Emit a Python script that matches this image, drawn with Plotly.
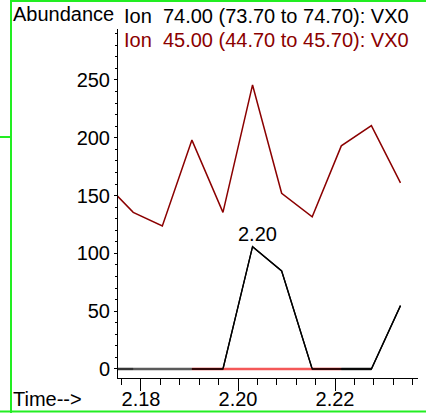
import plotly.graph_objects as go

# Data
times = [2.1723, 2.1784, 2.1844, 2.1905, 2.1969, 2.2030, 2.2090, 2.2153, 2.2213, 2.2275, 2.2335]
ion74 = [0, 0, 0, 0, 0, 105.8, 84.8, 0, 0, 0, 54.8]
ion45 = [162, 135.5, 123.7, 198, 135.5, 245.7, 152, 131.7, 193, 210.5, 161]

# baseline integration segments (start time, end time, colour)
seg_start = [2.1723, 2.1784, 2.1905, 2.1969, 2.2153, 2.2213]
seg_end = [2.1784, 2.1905, 2.1969, 2.2153, 2.2213, 2.2275]
seg_colors = ["#333333", "#5a5a5a", "#cc1c1c", "#f45858", "#cc1c1c", "#202020"]

peak_label = "2.20"
peak_time = 2.2030
peak_value = 105.8

title_1 = "Ion&nbsp; 74.00 (73.70 to 74.70): VX0"
title_2 = "Ion&nbsp; 45.00 (44.70 to 45.70): VX0"

W, H = 426, 413
L, R, T, B = 118, 8, 29, 35
pw, ph = W - L - R, H - T - B

def px(x):
    return (x - L) / pw

def py(y):
    return (H - B - y) / ph

FONT = "Liberation Sans, Arial, sans-serif"

fig = go.Figure()

fig.add_trace(go.Scatter(x=times, y=ion45, mode="lines",
                         line=dict(color="#8b0000", width=1.5), hoverinfo="skip"))
fig.add_trace(go.Scatter(x=times, y=ion74, mode="lines",
                         line=dict(color="black", width=1.3), hoverinfo="skip"))
for s, e, c in zip(seg_start, seg_end, seg_colors):
    fig.add_trace(go.Scatter(x=[s, e], y=[0, 0], mode="lines",
                             line=dict(color=c, width=2.5), hoverinfo="skip"))
fig.add_trace(go.Scatter(x=times[3:], y=ion74[3:], mode="lines",
                         line=dict(color="black", width=1.3), hoverinfo="skip"))

fig.add_annotation(x=peak_time, y=peak_value, text=peak_label, showarrow=False,
                   yshift=13, xshift=5, font=dict(size=20, color="black", family=FONT))

annos = [
    dict(x=px(11), y=py(14), text="Abundance", color="black"),
    dict(x=px(122), y=py(16), text=title_1, color="black"),
    dict(x=px(122), y=py(39.5), text=title_2, color="#8b0000"),
    dict(x=px(11), y=py(399), text="Time-->", color="black"),
]
for a in annos:
    fig.add_annotation(x=a["x"], y=a["y"], xref="paper", yref="paper", text=a["text"],
                       showarrow=False, xanchor="left", yanchor="middle",
                       font=dict(size=20, color=a["color"], family=FONT))

green = "#22ee22"
shapes = [
    dict(x0=px(11), x1=px(11), y0=py(0), y1=py(413)),
    dict(x0=px(11), x1=px(426), y0=py(1), y1=py(1)),
    dict(x0=px(0), x1=px(426), y0=py(411.5), y1=py(411.5)),
    dict(x0=px(0), x1=px(11), y0=py(137), y1=py(137)),
]
for s in shapes:
    fig.add_shape(type="line", xref="paper", yref="paper", line=dict(color=green, width=2), **s)

fig.update_layout(
    width=W, height=H,
    margin=dict(l=L, r=R, t=T, b=B, autoexpand=False),
    paper_bgcolor="white", plot_bgcolor="white",
    showlegend=False,
    font=dict(family=FONT, size=20, color="black"),
    xaxis=dict(range=[2.17526, 2.23711], tick0=2.18, dtick=0.02, tickformat=".2f",
               automargin=False,
               showgrid=False, zeroline=False, showline=True, linecolor="black", linewidth=1,
               ticks="outside", ticklen=12, tickcolor="black", ticklabelstandoff=-9,
               minor=dict(dtick=0.004, tick0=2.18, ticks="outside", ticklen=6, tickcolor="black", showgrid=False),
               tickfont=dict(size=20)),
    yaxis=dict(range=[-7.8, 294.1], tick0=0, dtick=50,
               automargin=False,
               showgrid=False, zeroline=False, showline=True, linecolor="black", linewidth=1,
               ticks="outside", ticklen=3, tickcolor="black",
               minor=dict(dtick=10, ticks="outside", ticklen=2, tickcolor="black", showgrid=False),
               tickfont=dict(size=20)),
)

fig.write_html("out.html", post_script="document.body.style.margin='0';",
               config={"displayModeBar": False})
